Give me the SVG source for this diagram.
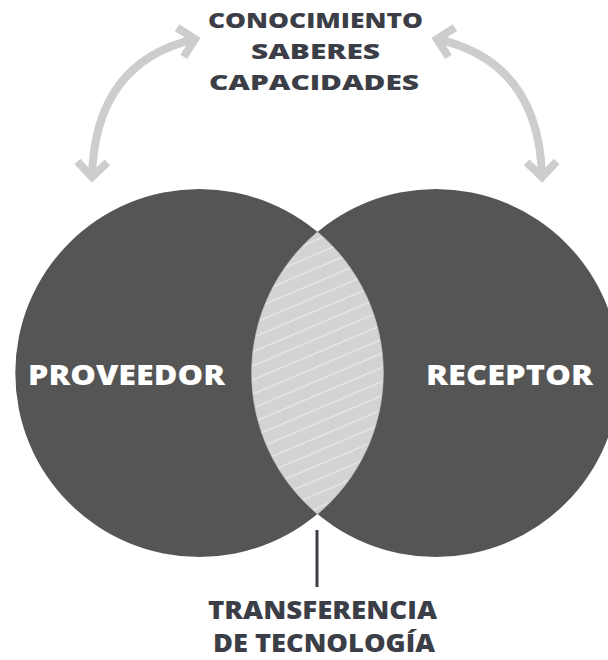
<svg xmlns="http://www.w3.org/2000/svg" width="608" height="660" viewBox="0 0 608 660">
  <style>
    .circle { fill: #555555; }
    .big { font-family: "Open Sans", "Liberation Sans", sans-serif; font-weight: 800; font-size: 28px; fill: #ffffff; }
    .top { font-family: "Open Sans", "Liberation Sans", sans-serif; font-weight: 800; font-size: 21px; fill: #3b3e46; text-anchor: middle; }
    .bot { font-family: "Open Sans", "Liberation Sans", sans-serif; font-weight: 800; font-size: 24px; fill: #3b3e46; text-anchor: middle; }
    .arc { fill: none; stroke: #cdcdcd; stroke-width: 8; }
  </style>
  <defs>
    <pattern id="hatch" patternUnits="userSpaceOnUse" width="13" height="13" patternTransform="rotate(-23)">
      <rect width="13" height="13" fill="#d3d3d3"/>
      <path d="M0 6.5 H13" stroke="#e9e9e9" stroke-width="1.2"/>
    </pattern>
    <marker id="chev" markerUnits="userSpaceOnUse" viewBox="-24 -20 30 40" markerWidth="30" markerHeight="40" refX="0" refY="0" orient="auto-start-reverse">
      <path d="M -15 -15 L 0 0 L -15 15" fill="none" stroke="#cdcdcd" stroke-width="8" stroke-linejoin="miter"/>
    </marker>
  </defs>
  <rect width="608" height="660" fill="#ffffff"/>

  <g id="proveedor">
    <circle class="circle" cx="199.3" cy="373" r="184"/>
  </g>
  <g id="receptor">
    <circle class="circle" cx="435.7" cy="373" r="184"/>
  </g>
  <g id="transferencia-zona">
    <path d="M 317.5 232 A 184 184 0 0 0 317.5 514 A 184 184 0 0 0 317.5 232 Z" fill="url(#hatch)" stroke="#c8c8c8" stroke-width="0.8"/>
  </g>
  <g id="proveedor-label">
    <text class="big" x="28" y="385" textLength="197" lengthAdjust="spacingAndGlyphs">PROVEEDOR</text>
  </g>
  <g id="receptor-label">
    <text class="big" x="426" y="385" textLength="167" lengthAdjust="spacingAndGlyphs">RECEPTOR</text>
  </g>

  <g id="conocimiento">
    <text class="top" x="315.5" y="28" textLength="215" lengthAdjust="spacingAndGlyphs">CONOCIMIENTO</text>
    <text class="top" x="315.5" y="59" textLength="129" lengthAdjust="spacingAndGlyphs">SABERES</text>
    <text class="top" x="314" y="90" textLength="210" lengthAdjust="spacingAndGlyphs">CAPACIDADES</text>
  </g>

  <g id="transferencia">
    <text class="bot" x="322.5" y="619" textLength="229" lengthAdjust="spacingAndGlyphs">TRANSFERENCIA</text>
    <text class="bot" x="324" y="652" textLength="222" lengthAdjust="spacingAndGlyphs">DE TECNOLOGÍA</text>
  </g>

  <g id="connectors">
    <path class="arc" d="M 92 177 Q 95 62 195 39" marker-start="url(#chev)" marker-end="url(#chev)"/>
    <path class="arc" d="M 542 177 Q 539 62 437 39" marker-start="url(#chev)" marker-end="url(#chev)"/>
    <line x1="317" y1="530" x2="317" y2="587" stroke="#3b3e46" stroke-width="3"/>
  </g>
</svg>
